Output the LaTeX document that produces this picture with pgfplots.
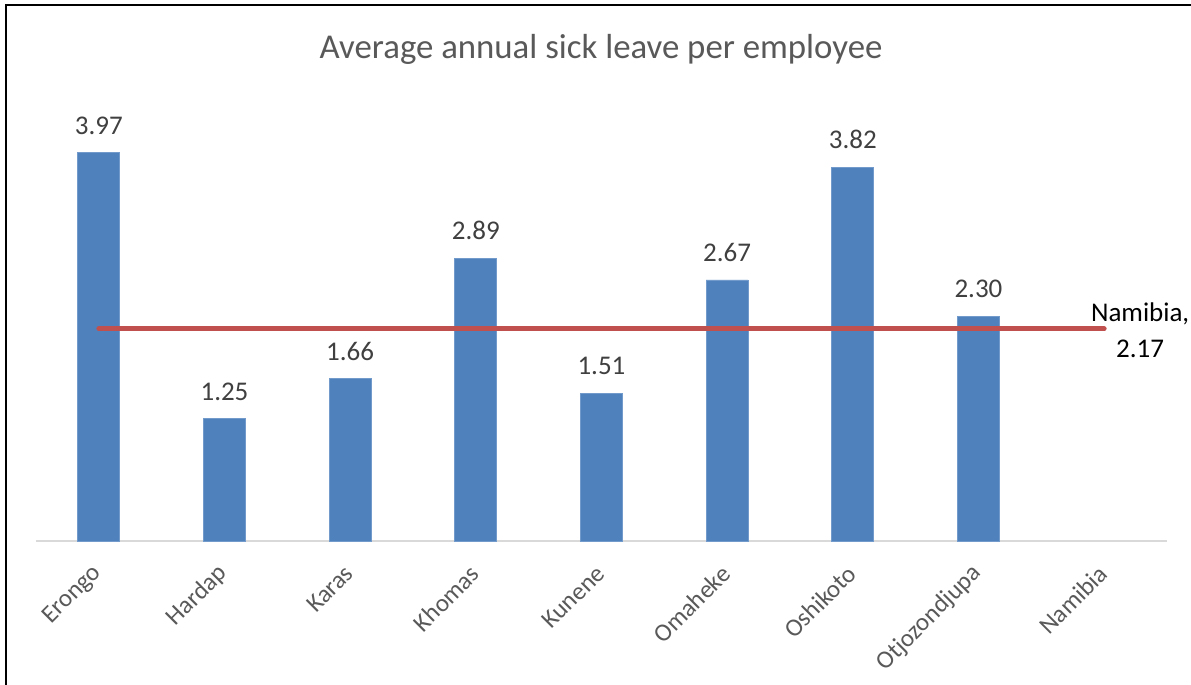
\documentclass[border=0pt]{standalone}
\usepackage{pgfplots}
\pgfplotsset{compat=1.18}
\usepackage{fontspec}
\setmainfont{Carlito}
\definecolor{barblue}{HTML}{4F81BD}
\definecolor{linered}{HTML}{C0504D}
\definecolor{titlegray}{HTML}{595959}
\definecolor{labelgray}{HTML}{404040}
\definecolor{axisgray}{HTML}{D9D9D9}
\begin{document}
\begin{tikzpicture}[x=1pt,y=1pt]
\path[use as bounding box] (0,0) rectangle (595.5,342.5);
\draw[black, line width=1.1pt] (3,0) -- (3,340) -- (595.5,340);
\node[text=titlegray, font=\fontsize{17.4}{20}\selectfont] at (300.5,318) {Average annual sick leave per employee};
\begin{axis}[
  at={(18pt,72pt)}, anchor=south west,
  scale only axis, width=565.5pt, height=220pt,
  xmin=-0.5, xmax=8.5, ymin=0, ymax=4.5,
  axis x line*=bottom, axis y line=none,
  x axis line style={draw=axisgray, line width=0.8pt, -},
  xtick={0,1,2,3,4,5,6,7,8},
  xticklabels={Erongo,Hardap,Karas,Khomas,Kunene,Omaheke,Oshikoto,Otjozondjupa,Namibia},
  xtick style={draw=none},
  x tick label style={rotate=45, anchor=east, text=titlegray, font=\fontsize{12.5}{14}\selectfont, inner sep=0pt, xshift=-10.3pt, yshift=-9.8pt},
  ytick=\empty,
  clip=false,
]
\addplot[ybar, bar width=21pt, fill=barblue, draw=barblue!80!white,
  nodes near coords,
  every node near coord/.append style={text=labelgray, font=\fontsize{13.5}{15}\selectfont, anchor=south, inner sep=0pt, yshift=9pt},
  /pgf/number format/.cd, fixed, fixed zerofill, precision=2, assume math mode=true]
  coordinates {(0,3.97) (1,1.25) (2,1.66) (3,2.89) (4,1.51) (5,2.67) (6,3.82) (7,2.30)};
\addplot[linered, line width=2.5pt, line cap=round] coordinates {(0,2.17) (8,2.17)};
\node[align=center, font=\fontsize{13.5}{18}\selectfont, text=black] at (axis cs:8,2.17) [xshift=18pt, yshift=-0.5pt] {Namibia,\\2.17};
\end{axis}
\end{tikzpicture}
\end{document}
